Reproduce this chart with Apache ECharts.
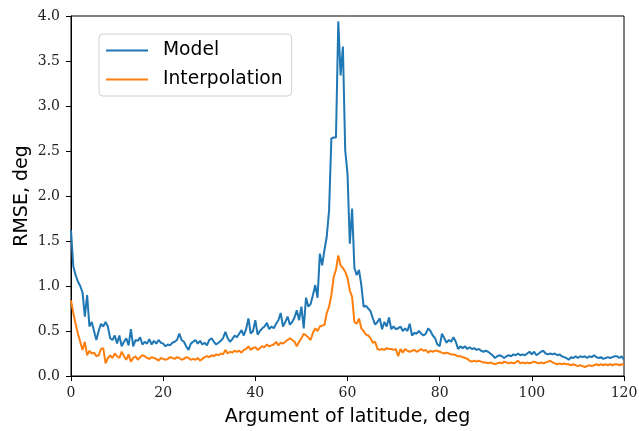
<!DOCTYPE html>
<html>
<head>
<meta charset="utf-8">
<script src="https://cdn.jsdelivr.net/npm/echarts@6/dist/echarts.min.js"></script>
<style>html,body{margin:0;padding:0;background:#fff}#c{width:639px;height:431px}</style>
</head>
<body>
<div id="c"></div>
<script>
// Argument of latitude grid: 0 .. 120 deg, step 0.5 deg
const X_START = 0, X_STEP = 0.5;
const seriesNames = ['Model', 'Interpolation'];
const xTicks = [0, 20, 40, 60, 80, 100, 120];
const yTicks = [0.0, 0.5, 1.0, 1.5, 2.0, 2.5, 3.0, 3.5, 4.0];

const model = [
  1.62,1.22,1.12,1.05,1.0,0.93,0.66,0.9,0.55,0.6,
  0.5,0.4,0.5,0.58,0.55,0.6,0.55,0.42,0.4,0.45,
  0.36,0.45,0.33,0.38,0.42,0.34,0.52,0.33,0.4,0.39,
  0.43,0.35,0.38,0.36,0.41,0.35,0.39,0.36,0.4,0.37,
  0.36,0.33,0.35,0.34,0.37,0.38,0.4,0.47,0.4,0.38,
  0.33,0.29,0.36,0.38,0.4,0.36,0.39,0.35,0.37,0.34,
  0.4,0.42,0.38,0.35,0.37,0.39,0.42,0.49,0.42,0.38,
  0.41,0.45,0.43,0.47,0.51,0.45,0.52,0.64,0.47,0.5,
  0.62,0.46,0.5,0.53,0.55,0.59,0.52,0.55,0.53,0.58,
  0.62,0.7,0.55,0.6,0.66,0.57,0.6,0.65,0.73,0.62,
  0.77,0.53,0.87,0.77,0.8,0.9,1.01,0.87,1.36,1.23,
  1.4,1.55,1.84,2.64,2.65,2.65,3.94,3.34,3.66,2.51,
  2.25,1.47,1.86,1.2,1.12,1.18,1.01,0.77,0.78,0.75,
  0.72,0.64,0.57,0.6,0.64,0.52,0.6,0.55,0.65,0.52,
  0.55,0.52,0.53,0.55,0.5,0.53,0.5,0.58,0.45,0.48,
  0.47,0.5,0.47,0.45,0.47,0.53,0.5,0.45,0.42,0.35,
  0.33,0.47,0.42,0.37,0.4,0.38,0.43,0.38,0.3,0.33,
  0.31,0.33,0.3,0.32,0.3,0.31,0.29,0.3,0.28,0.27,
  0.28,0.27,0.25,0.23,0.2,0.22,0.23,0.22,0.2,0.22,
  0.23,0.22,0.24,0.23,0.25,0.23,0.24,0.23,0.25,0.27,
  0.24,0.27,0.23,0.25,0.27,0.28,0.25,0.24,0.25,0.24,
  0.25,0.23,0.24,0.22,0.21,0.2,0.18,0.21,0.2,0.22,
  0.2,0.22,0.21,0.22,0.2,0.22,0.21,0.23,0.21,0.2,
  0.21,0.19,0.2,0.21,0.2,0.21,0.22,0.22,0.2,0.22,
  0.18
];

const interpolation = [
  0.84,0.7,0.58,0.47,0.38,0.29,0.38,0.23,0.28,0.25,
  0.26,0.22,0.23,0.3,0.31,0.14,0.2,0.23,0.2,0.25,
  0.22,0.2,0.27,0.22,0.18,0.24,0.16,0.2,0.22,0.18,
  0.21,0.23,0.22,0.2,0.19,0.21,0.2,0.19,0.17,0.2,
  0.19,0.18,0.19,0.21,0.2,0.19,0.21,0.2,0.18,0.19,
  0.21,0.2,0.18,0.19,0.18,0.2,0.17,0.19,0.21,0.22,
  0.21,0.23,0.22,0.24,0.23,0.25,0.24,0.29,0.25,0.27,
  0.26,0.28,0.27,0.28,0.26,0.29,0.3,0.33,0.29,0.31,
  0.32,0.29,0.31,0.33,0.32,0.35,0.33,0.34,0.35,0.38,
  0.34,0.37,0.36,0.38,0.4,0.42,0.4,0.38,0.33,0.38,
  0.42,0.47,0.45,0.43,0.4,0.48,0.53,0.5,0.55,0.56,
  0.57,0.7,0.77,0.9,1.1,1.18,1.34,1.23,1.2,1.16,
  1.09,0.95,0.88,0.6,0.58,0.64,0.53,0.5,0.46,0.45,
  0.42,0.37,0.38,0.3,0.29,0.3,0.29,0.31,0.3,0.3,
  0.29,0.3,0.22,0.3,0.26,0.3,0.28,0.27,0.28,0.29,
  0.27,0.28,0.3,0.28,0.29,0.26,0.28,0.27,0.28,0.28,
  0.27,0.26,0.25,0.26,0.25,0.24,0.24,0.23,0.22,0.22,
  0.21,0.2,0.19,0.17,0.16,0.17,0.16,0.17,0.16,0.15,
  0.15,0.14,0.15,0.14,0.13,0.14,0.15,0.14,0.16,0.15,
  0.14,0.15,0.14,0.15,0.17,0.14,0.15,0.14,0.15,0.14,
  0.15,0.16,0.15,0.14,0.15,0.14,0.15,0.16,0.17,0.15,
  0.14,0.13,0.14,0.13,0.14,0.13,0.13,0.12,0.13,0.12,
  0.11,0.12,0.11,0.1,0.11,0.12,0.11,0.12,0.13,0.12,
  0.13,0.12,0.13,0.12,0.13,0.12,0.13,0.13,0.12,0.13,
  0.12
];

const pairs = arr => arr.map((v, i) => [X_START + i * X_STEP, v]);

const serifFont = 'DejaVu Serif';
const sansFont = 'DejaVu Sans';

const chart = echarts.init(document.getElementById('c'), null, {renderer: 'canvas'});
chart.setOption({
  animation: false,
  backgroundColor: '#fff',
  grid: {left: 71, right: 15, top: 16, bottom: 55, show: true, borderColor: '#000', borderWidth: 1,
         backgroundColor: 'transparent', containLabel: false, outerBoundsMode: 'none'},
  legend: {
    left: 99, top: 34, orient: 'vertical',
    data: seriesNames,
    icon: 'rect', itemWidth: 42, itemHeight: 2, itemGap: 10,
    textStyle: {fontFamily: sansFont, fontSize: 18.7, color: '#000', padding: [0, 0, 0, 10]},
    backgroundColor: '#fff', borderColor: '#d0d0d0', borderWidth: 1, borderRadius: 4,
    padding: [7, 9, 7, 7]
  },
  xAxis: {
    type: 'value', min: xTicks[0], max: xTicks[xTicks.length - 1], interval: 20,
    name: 'Argument of latitude, deg', nameLocation: 'middle', nameGap: 32, nameMoveOverlap: false,
    nameTextStyle: {fontFamily: sansFont, fontSize: 19, color: '#000'},
    axisLine: {show: true, lineStyle: {color: '#000', width: 1}},
    axisTick: {show: true, inside: false, length: 5, lineStyle: {color: '#000'}},
    axisLabel: {fontFamily: serifFont, fontSize: 14, color: '#222', margin: 10},
    splitLine: {show: false}
  },
  yAxis: {
    type: 'value', min: yTicks[0], max: yTicks[yTicks.length - 1], interval: 0.5,
    name: 'RMSE, deg', nameLocation: 'middle', nameGap: 39, nameMoveOverlap: false,
    nameTextStyle: {fontFamily: sansFont, fontSize: 19, color: '#000'},
    axisLine: {show: true, lineStyle: {color: '#000', width: 1}},
    axisTick: {show: true, inside: false, length: 5, lineStyle: {color: '#000'}},
    axisLabel: {fontFamily: serifFont, fontSize: 14, color: '#222', margin: 11, formatter: v => v.toFixed(1)},
    splitLine: {show: false}
  },
  series: [
    {name: seriesNames[0], type: 'line', data: pairs(model), showSymbol: false, symbol: 'none',
     lineStyle: {color: '#1f77b4', width: 2}, itemStyle: {color: '#1f77b4'}},
    {name: seriesNames[1], type: 'line', data: pairs(interpolation), showSymbol: false, symbol: 'none',
     lineStyle: {color: '#ff7f0e', width: 2}, itemStyle: {color: '#ff7f0e'}}
  ]
});
</script>
</body>
</html>
